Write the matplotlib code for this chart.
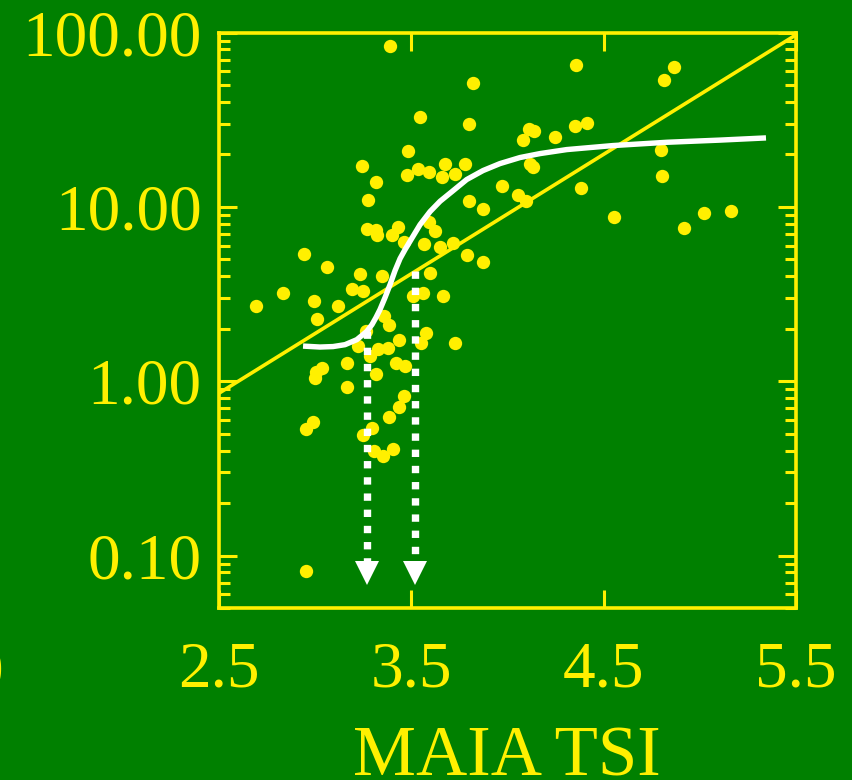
import numpy as np
import matplotlib.pyplot as plt
from matplotlib.ticker import FixedLocator, NullFormatter

plt.rcParams['font.family'] = ['Liberation Serif', 'DejaVu Serif']

GREEN = '#008000'
YELLOW = '#FFF000'

# MAIA TSI against the measured value (log axis)
tsi = [3.39, 3.82, 3.548, 3.80, 4.08, 3.486, 3.244, 3.536, 3.595, 3.675,
       3.779, 3.479, 3.66, 3.73, 3.32, 3.278, 3.971, 4.057, 4.096, 3.80,
       3.876, 3.595, 3.625, 3.27, 3.318, 3.323, 3.432, 3.403, 3.465, 3.568,
       3.651, 3.72, 3.789, 3.873, 2.946, 3.066, 3.235, 3.349, 3.597, 2.835,
       2.695, 2.998, 3.122, 3.192, 3.249, 3.512, 3.564, 3.668, 3.01, 3.361,
       3.387, 3.265, 3.225, 3.287, 3.33, 3.379, 3.436, 3.578, 3.554, 3.727,
       3.168, 3.036, 3.004, 3.0, 3.317, 3.422, 3.47, 3.168, 3.464, 3.436,
       3.384, 3.299, 3.249, 2.992, 2.955, 3.308, 3.353, 3.405, 2.955,
       4.356, 4.866, 4.814, 4.113, 4.14, 4.248, 4.353, 4.414, 4.80, 4.118,
       4.132, 4.385, 4.805, 4.556, 4.92, 5.022, 5.162]
y_vals = [83.4, 51.6, 32.9, 29.9, 24.2, 20.9, 17.2, 16.4, 15.9, 17.5,
          17.6, 15.3, 14.8, 15.5, 13.8, 11.0, 13.1, 11.7, 10.8, 10.8,
          9.7, 8.2, 7.3, 7.5, 7.4, 6.9, 7.7, 6.9, 6.3, 6.1,
          5.9, 6.2, 5.3, 4.8, 5.4, 4.5, 4.1, 4.0, 4.2, 3.2,
          2.7, 2.9, 2.7, 3.4, 3.3, 3.1, 3.2, 3.1, 2.26, 2.36,
          2.09, 1.95, 1.59, 1.40, 1.54, 1.55, 1.73, 1.90, 1.66, 1.66,
          1.27, 1.19, 1.13, 1.04, 1.10, 1.27, 1.23, 0.93, 0.82, 0.71,
          0.62, 0.54, 0.49, 0.58, 0.53, 0.40, 0.37, 0.41, 0.081,
          64.9, 63.2, 53.5, 28.1, 27.3, 25.3, 29.0, 30.3, 21.3, 17.6,
          16.9, 12.9, 15.1, 8.7, 7.6, 9.2, 9.5]

# fitted S-shaped curve
fit_x = [2.939, 3.027, 3.095, 3.157, 3.218, 3.245, 3.270, 3.297, 3.318, 3.339,
         3.365, 3.391, 3.417, 3.443, 3.469, 3.50, 3.547, 3.599, 3.651, 3.713,
         3.789, 3.874, 3.962, 4.066, 4.17, 4.309, 4.549, 4.83, 5.105, 5.344]
fit_y = [1.59, 1.57, 1.58, 1.62, 1.73, 1.83, 1.93, 2.11, 2.32, 2.58,
         3.02, 3.58, 4.31, 5.05, 5.69, 6.49, 7.91, 9.40, 10.77, 12.24,
         14.34, 16.15, 17.71, 19.18, 20.21, 21.31, 22.47, 23.47, 24.15, 24.86]

# straight regression line (log-linear)
reg_x = [2.5, 5.5]
reg_y = [0.85, 97.0]

# cut-off values marked with dotted arrows
cut_x = [3.27, 3.52]
cut_top = [1.93, 4.3]
head_base = 0.093
head_tip = 0.067

x_ticks = [2.5, 3.5, 4.5, 5.5]
x_labels = ['2.5', '3.5', '4.5', '5.5']
y_ticks = [0.1, 1, 10, 100]
y_labels = ['0.10', '1.00', '10.00', '100.00']

fig = plt.figure(figsize=(8.53, 7.80), dpi=100, facecolor=GREEN)
ax = fig.add_axes([0.2562, 0.2205, 0.677, 0.7378])
ax.set_facecolor(GREEN)

ax.scatter(tsi, y_vals, s=92, color=YELLOW, linewidths=0, zorder=2)
ax.plot(reg_x, reg_y, color=YELLOW, lw=2.6, zorder=3)
ax.plot(fit_x, fit_y, color='white', lw=3.9, solid_capstyle='butt', zorder=4)

for cx, top in zip(cut_x, cut_top):
    ax.plot([cx, cx], [top, head_base], color='white', lw=5.3,
            dashes=(1, 1.2), dash_capstyle='butt', zorder=5)
    ax.plot([cx], [np.sqrt(head_base * head_tip)], marker='v', ms=17.5,
            color='white', mew=0, zorder=5)

ax.set_yscale('log')
ax.set_xlim(2.5, 5.5)
ax.set_ylim(0.05, 100)

ax.set_xticks(x_ticks)
ax.set_xticklabels(x_labels)
ax.set_yticks(y_ticks)
ax.set_yticklabels(y_labels)
ax.yaxis.set_minor_locator(FixedLocator(
    [m * d for d in [0.01, 0.1, 1, 10] for m in range(2, 10)]))
ax.yaxis.set_minor_formatter(NullFormatter())
ax.xaxis.set_minor_locator(FixedLocator([]))

for s in ax.spines.values():
    s.set_color(YELLOW)
    s.set_linewidth(2.6)

ax.tick_params(which='both', direction='in', top=True, right=True,
               color=YELLOW, labelcolor=YELLOW, width=2.2)
ax.tick_params(which='major', length=13, labelsize=47)
ax.tick_params(which='minor', length=8)
ax.tick_params(axis='x', pad=24)
ax.tick_params(axis='y', pad=12)

ax.set_xlabel('MAIA TSI', color=YELLOW, fontsize=51, labelpad=18)

# neighbouring tick label peeking in at the left edge
fig.text(3 / 853, 1 - 690 / 780, '0', color=YELLOW, fontsize=47,
         ha='right', va='baseline')

fig.savefig('out.png', dpi=100, facecolor=GREEN)
